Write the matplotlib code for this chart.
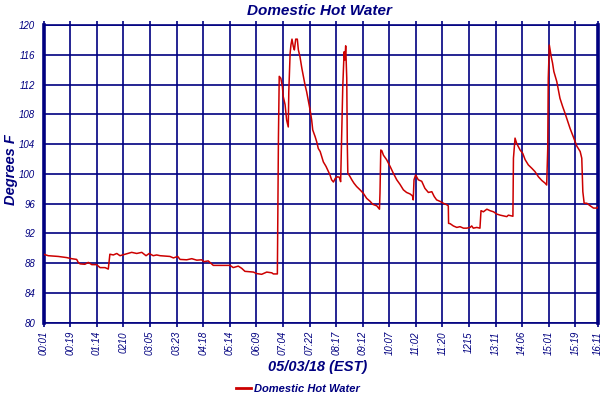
import matplotlib
matplotlib.use("Agg")
import matplotlib.pyplot as plt
from matplotlib.lines import Line2D

plt.rcParams["font.family"] = ["Liberation Sans", "DejaVu Sans"]

NAVY = "#000080"
RED = "#CC0000"

tick_labels = ["00:01", "00:19", "01:14", "0210", "03:05", "03:23", "04:18",
               "05:14", "06:09", "07:04", "07:22", "08:17", "09:12", "10:07",
               "11:02", "11:20", "1215", "13:11", "14:06", "15:01", "15:19",
               "16:11"]
tick_pos = list(range(21)) + [20.84]

# sample position (in tick-interval units) and temperature (deg F)
pos = [0.00, 0.17, 0.55, 0.86, 1.05, 1.24, 1.30, 1.37, 1.55, 1.68, 1.81, 1.99,
       2.12, 2.31, 2.43, 2.49, 2.62, 2.75, 2.87, 3.06, 3.31, 3.50, 3.69, 3.85,
       3.97, 4.12, 4.25, 4.38, 4.75, 4.88, 5.04, 5.13, 5.38, 5.57, 5.76, 5.94,
       6.03, 6.19, 6.38, 7.01, 7.13, 7.32, 7.45, 7.57, 7.89, 8.01, 8.20, 8.39,
       8.58, 8.64, 8.79,
       8.83, 8.86, 8.92, 8.98, 9.01, 9.08, 9.14, 9.20, 9.22, 9.27, 9.30, 9.34,
       9.39, 9.43, 9.48, 9.54, 9.58, 9.64, 9.71, 9.77, 9.83, 9.89, 9.95, 10.02,
       10.08, 10.12, 10.21, 10.27, 10.33, 10.40, 10.46, 10.52, 10.62, 10.71,
       10.77, 10.83, 10.90, 10.97, 11.05, 11.12, 11.17, 11.20, 11.25, 11.30,
       11.33, 11.36, 11.40, 11.42, 11.44, 11.52, 11.59, 11.67, 11.77, 11.90,
       12.02, 12.15, 12.28, 12.38, 12.53, 12.63, 12.65, 12.68, 12.72, 12.78,
       12.90, 13.03, 13.15, 13.28, 13.40, 13.53, 13.65, 13.78, 13.87, 13.90,
       13.93, 13.99, 14.09, 14.22, 14.34, 14.47, 14.60, 14.69, 14.78, 14.91,
       15.03, 15.16, 15.22,
       15.23, 15.29, 15.41, 15.54, 15.66, 15.79, 15.91, 16.04, 16.10, 16.16,
       16.29, 16.41, 16.45, 16.54, 16.67, 16.79, 16.92, 17.04, 17.17, 17.29,
       17.42, 17.48, 17.65, 17.67, 17.73, 17.79, 17.92, 18.02, 18.11, 18.23,
       18.36, 18.48, 18.61, 18.74, 18.86, 18.92, 18.96, 18.98, 19.02, 19.05,
       19.09, 19.14, 19.19, 19.30, 19.36, 19.42, 19.52, 19.61, 19.67, 19.80,
       19.93, 20.05, 20.18, 20.24, 20.28, 20.33, 20.43, 20.56, 20.68, 20.81,
       20.84]
temp = [89.2, 89.0, 88.9, 88.75, 88.6, 88.5, 88.1, 87.9, 87.85, 88.1, 87.8, 87.8,
        87.4, 87.4, 87.2, 89.2, 89.1, 89.3, 89.0, 89.2, 89.45, 89.3, 89.45, 89.0,
        89.3, 89.0, 89.1, 89.0, 88.9, 88.7, 88.9, 88.5, 88.45, 88.6, 88.4, 88.45,
        88.2, 88.3, 87.7, 87.7, 87.4, 87.6, 87.3, 86.9, 86.8, 86.6, 86.5, 86.8,
        86.7, 86.55, 86.55,
        104.8, 113.1, 112.85, 111.7, 110.4, 109.3, 107.2, 106.3, 111.05, 116.2,
        117.3, 118.1, 117.1, 116.65, 118.1, 118.1, 116.65, 115.75, 114.2, 113.1,
        111.95, 111.05, 109.9, 108.6, 107.25, 105.9, 105.0, 104.3, 103.4, 103.0,
        102.3, 101.6, 101.0, 100.3, 99.85, 99.2, 98.9, 99.4, 99.6, 99.55, 98.95,
        103.9, 111.7, 116.4, 115.3, 117.2, 112.85, 104.1, 100.1, 99.65, 99.2,
        98.75, 98.3, 97.85, 97.4, 96.7, 96.3, 95.9, 95.7, 95.25, 97.4, 103.2,
        103.1, 102.5, 101.9, 101.0, 100.1, 99.2, 98.6, 97.85, 97.5, 97.3, 97.05,
        96.5, 99.2, 99.85, 99.2, 99.0, 98.05, 97.5, 97.6, 96.95, 96.5, 96.3,
        96.05, 95.85, 95.7,
        93.35, 93.3, 93.0, 92.8, 92.9, 92.7, 92.7, 92.8, 93.0, 92.7, 92.8, 92.7,
        95.05, 94.9, 95.25, 95.05, 94.9, 94.6, 94.45, 94.35, 94.25, 94.45, 94.3,
        102.1, 104.8, 104.1, 103.2, 102.75, 101.9, 101.2, 100.75, 100.3, 99.6,
        99.1, 98.75, 98.5, 103.4, 112.85, 117.3, 116.65, 115.75, 114.9, 113.75,
        112.4, 111.3, 110.15, 109.05, 108.15, 107.5, 106.1, 104.9, 103.75, 103.0,
        102.1, 97.6, 96.05, 96.05, 95.7, 95.4, 95.4, 95.5]

y_ticks = list(range(80, 121, 4))

fig = plt.figure(figsize=(6, 4), dpi=100)
ax = fig.add_axes([0.0728, 0.1933, 0.9234, 0.7442])

ax.plot(pos, temp, color=RED, lw=1.1, zorder=3)

ax.set_xlim(0, 20.84)
ax.set_ylim(80, 120)
ax.set_xticks(tick_pos)
ax.set_xticklabels(tick_labels, rotation=90, fontstyle="italic", fontsize=7,
                   color=NAVY)
ax.set_yticks(y_ticks)
ax.set_yticklabels([str(v) for v in y_ticks], fontstyle="italic", fontsize=7,
                   color=NAVY)
ax.grid(True, color=NAVY, lw=1.2, zorder=1)
ax.set_axisbelow(True)
ax.tick_params(axis="x", direction="out", length=3, width=1.2, color=NAVY,
               top=True, bottom=True, pad=3)
ax.tick_params(axis="y", length=0, pad=6)
for side in ["left", "right"]:
    ax.spines[side].set_color(NAVY)
    ax.spines[side].set_linewidth(2.6)
for side in ["top", "bottom"]:
    ax.spines[side].set_color(NAVY)
    ax.spines[side].set_linewidth(1.2)

fig.text(0.532, 0.973, "Domestic Hot Water", ha="center", va="center",
         fontsize=11, fontstyle="italic", fontweight="bold", color=NAVY)
fig.text(0.53, 0.082, "05/03/18 (EST)", ha="center", va="center",
         fontsize=10.5, fontstyle="italic", fontweight="bold", color=NAVY)
fig.text(0.018, 0.575, "Degrees F", ha="center", va="center", rotation=90,
         fontsize=10.5, fontstyle="italic", fontweight="bold", color=NAVY)

handle = Line2D([], [], color=RED, lw=2)
leg = fig.legend([handle], ["Domestic Hot Water"], loc="center",
                 bbox_to_anchor=(0.497, 0.027), frameon=False, handlelength=1.3,
                 handletextpad=0.3, prop={"style": "italic", "weight": "bold",
                                          "size": 8})
for t in leg.get_texts():
    t.set_color(NAVY)

fig.savefig("out.png", dpi=100)
